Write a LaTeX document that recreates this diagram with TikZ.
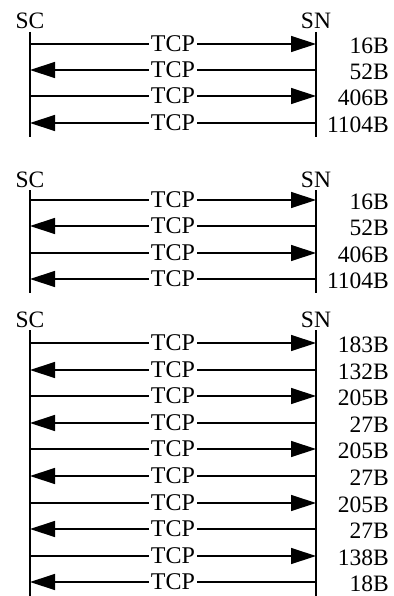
\documentclass[tikz,border=0pt]{standalone}
\usepackage{fontspec}
\setmainfont{Liberation Serif}
\usetikzlibrary{arrows.meta}
\begin{document}
\begin{tikzpicture}[x=1pt,y=-1pt,
  life/.style={line width=1.3pt},
  msg/.style={line width=1.3pt,-{Triangle[length=25pt,width=16pt]}},
  tcp/.style={fill=white,inner xsep=2pt,inner ysep=0pt,font=\fontsize{24}{24}\selectfont},
  ent/.style={inner sep=0pt,font=\fontsize{23.5}{24}\selectfont},
  bytes/.style={anchor=east,inner sep=0pt,font=\fontsize{23.5}{24}\selectfont}]
\useasboundingbox (0,0) rectangle (393,596);
% lifeline labels and lines
\foreach \g/\ly/\ta/\tb in {1/21/32/137, 2/180/190/293, 3/320/330/596}{
  \node[ent] (sc\g) at (30,\ly) {SC};
  \node[ent] (sn\g) at (316,\ly) {SN};
  \coordinate (lt\g) at (30,\ta);
  \coordinate (lb\g) at (30,\tb);
  \coordinate (rt\g) at (316,\ta);
  \coordinate (rb\g) at (316,\tb);
  \draw[life] (lt\g) -- (lb\g);
  \draw[life] (rt\g) -- (rb\g);
}
% messages: name/y/direction(1 = SC->SN)/bytes
\foreach \n/\y/\d/\b in {
  a1/44/1/16B, a2/70/0/52B, a3/96/1/406B, a4/123/0/1104B,
  b1/200/1/16B, b2/226/0/52B, b3/253/1/406B, b4/279/0/1104B,
  c1/343/1/183B, c2/370/0/132B, c3/396/1/205B, c4/423/0/27B,
  c5/449/1/205B, c6/476/0/27B, c7/503/1/205B, c8/529/0/27B,
  c9/556/1/138B, c10/582/0/18B}{
  \coordinate (L\n) at (30,\y);
  \coordinate (R\n) at (316,\y);
  \ifnum\d=1
    \draw[msg] (L\n) -- (R\n);
  \else
    \draw[msg] (R\n) -- (L\n);
  \fi
  \node[tcp] (t\n) at (173,\y) {TCP};
  \node[bytes] (s\n) at (389,\y+2) {\b};
}
\end{tikzpicture}
\end{document}
